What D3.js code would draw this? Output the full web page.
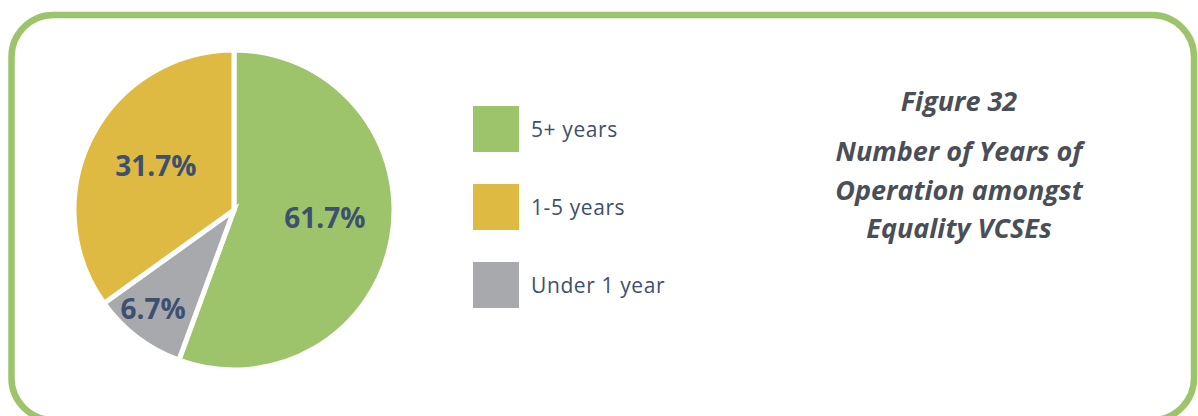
<!DOCTYPE html>
<html>
<head>
<meta charset="utf-8">
<script src="https://cdn.jsdelivr.net/npm/d3@7"></script>
<style>
  html, body { margin: 0; padding: 0; background: #ffffff; }
  svg { display: block; }
</style>
</head>
<body>
<svg id="chart" width="1198" height="416"></svg>
<script>
// ---- data ----
const categories = ["5+ years", "Under 1 year", "1-5 years"];
const sliceShares = [55.6, 9.5, 34.9];           // shares as drawn in the picture
const sliceLabels = ["61.7%", "6.7%", "31.7%"];   // labels printed on the slices
const legendOrder = ["5+ years", "1-5 years", "Under 1 year"];
const titleLines = ["Figure 32", "Number of Years of", "Operation amongst", "Equality VCSEs"];

const colors = {
  "5+ years": "#9dc46a",
  "1-5 years": "#dfba42",
  "Under 1 year": "#a8a9ad"
};

const svg = d3.select("#chart");

// frame
svg.append("rect")
  .attr("x", 11.5).attr("y", 15)
  .attr("width", 1182.5).attr("height", 405)
  .attr("rx", 42).attr("ry", 42)
  .attr("fill", "none")
  .attr("stroke", "#9dc46a")
  .attr("stroke-width", 6.5);

// pie
const cx = 234, cy = 210, R = 160;
const data = categories.map((c, i) => ({ cat: c, value: sliceShares[i], label: sliceLabels[i] }));
const pie = d3.pie().value(d => d.value).sort(null);
const arc = d3.arc().innerRadius(0).outerRadius(R);
const arcs = pie(data);

const g = svg.append("g").attr("transform", `translate(${cx},${cy})`);
g.selectAll("path").data(arcs).join("path")
  .attr("d", arc)
  .attr("fill", d => colors[d.data.cat])
  .attr("stroke", "#ffffff")
  .attr("stroke-width", 5)
  .attr("stroke-linejoin", "miter");

// label placement (radius fraction, angle shift in degrees from slice mid-angle)
const labelPlace = {
  "5+ years": [0.57, -5],
  "1-5 years": [0.56, 2],
  "Under 1 year": [0.80, 2]
};
g.selectAll("text.lbl").data(arcs).join("text")
  .attr("class", "lbl")
  .attr("transform", d => {
    const [f, da] = labelPlace[d.data.cat];
    const a = (d.startAngle + d.endAngle) / 2 + da * Math.PI / 180;
    return `translate(${Math.sin(a) * R * f},${-Math.cos(a) * R * f})`;
  })
  .attr("text-anchor", "middle")
  .attr("dy", "0.36em")
  .attr("font-family", "'Open Sans', sans-serif")
  .attr("font-weight", 700)
  .attr("font-size", 28)
  .attr("fill", "#3e5070")
  .text(d => d.data.label);

// legend
const legY = d3.scalePoint().domain(legendOrder).range([106, 262]);
const leg = svg.append("g");
const items = leg.selectAll("g").data(legendOrder).join("g")
  .attr("transform", d => `translate(473,${legY(d)})`);
items.append("rect")
  .attr("width", 46).attr("height", 46)
  .attr("fill", d => colors[d]);
items.append("text")
  .attr("x", 58).attr("y", 24)
  .attr("dy", "0.35em")
  .attr("font-family", "'Open Sans', sans-serif")
  .attr("font-size", 21)
  .attr("letter-spacing", 0.6)
  .attr("fill", "#3e4f6d")
  .text(d => d);

// title
const titleY = [111, 161, 200, 238];
svg.append("g").selectAll("text").data(titleLines).join("text")
  .attr("x", 959)
  .attr("y", (d, i) => titleY[i])
  .attr("text-anchor", "middle")
  .attr("font-family", "'Open Sans', sans-serif")
  .attr("font-weight", 700)
  .attr("font-style", "italic")
  .attr("font-size", 27)
  .attr("letter-spacing", 0)
  .attr("fill", "#4a4e56")
  .text(d => d);
</script>
</body>
</html>
